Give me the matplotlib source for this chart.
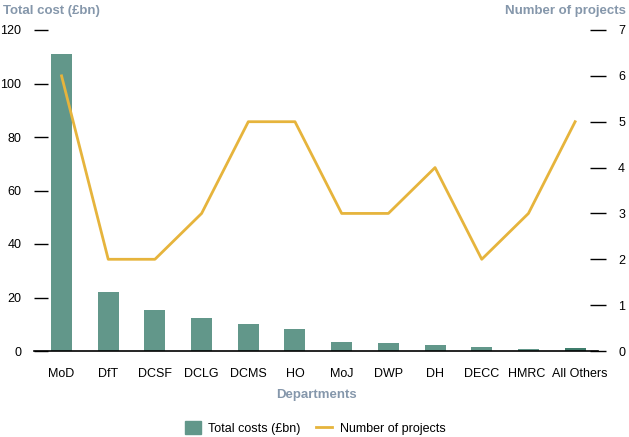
import numpy as np
from matplotlib import pyplot as plt
from matplotlib.patches import Patch
from matplotlib.lines import Line2D
import matplotlib.transforms as mtransforms

plt.rcParams['font.family'] = ['Liberation Sans', 'DejaVu Sans']

departments = ['MoD', 'DfT', 'DCSF', 'DCLG', 'DCMS', 'HO', 'MoJ', 'DWP', 'DH', 'DECC', 'HMRC', 'All Others']
total_cost = [111, 22.2, 15.5, 12.2, 10.2, 8.4, 3.5, 3.0, 2.3, 1.6, 0.6, 1.3]  # £bn
n_projects = [6, 2, 2, 3, 5, 5, 3, 3, 4, 2, 3, 5]

bar_col = '#62978a'
line_col = '#e6b43c'
head_col = '#8597ab'

fig = plt.figure(figsize=(6.29, 4.37), dpi=100)
ax = fig.add_axes([34/629, 86/437, 564/629, 321/437])
x = np.arange(len(departments))
colors = [bar_col]*(len(departments)-1) + ['#3f7d6c']
ax.bar(x, total_cost, width=0.45, color=colors, zorder=2)
ax.set_xlim(-0.59, 11.49)
ax.set_ylim(0, 120)
ax.set_yticks([0, 20, 40, 60, 80, 100, 120])
ax.set_xticks(x)
ax.set_xticklabels(departments)
for s in ['left', 'right', 'top']:
    ax.spines[s].set_visible(False)
ax.spines['bottom'].set_linewidth(1.2)
ax.tick_params(axis='y', direction='in', length=10, width=1, pad=9, labelsize=9)
ax.tick_params(axis='x', length=0, pad=12, labelsize=9)
# nudge the last two labels apart like the reference
lbls = ax.get_xticklabels()
lbls[-1].set_transform(lbls[-1].get_transform() + mtransforms.ScaledTranslation(5/100, 0, fig.dpi_scale_trans))
lbls[-2].set_transform(lbls[-2].get_transform() + mtransforms.ScaledTranslation(-2/100, 0, fig.dpi_scale_trans))

ax2 = ax.twinx()
ax2.plot(x, n_projects, color=line_col, lw=2, zorder=3)
ax2.set_ylim(0, 7)
ax2.set_yticks(range(8))
for s in ['left', 'right', 'top', 'bottom']:
    ax2.spines[s].set_visible(False)
ax2.tick_params(axis='y', direction='inout', length=11, width=1, pad=9, labelsize=9)

fig.text(3/629, 1-11/437, 'Total cost (£bn)', color=head_col, fontsize=9.5, fontweight='bold', va='center', ha='left')
fig.text(626/629, 1-11/437, 'Number of projects', color=head_col, fontsize=9.5, fontweight='bold', va='center', ha='right')
fig.text(316/629, 1-395/437, 'Departments', color=head_col, fontsize=9.5, fontweight='bold', va='center', ha='center')

handles = [Patch(color=bar_col, label='Total costs (£bn)'),
           Line2D([0], [0], color=line_col, lw=2, label='Number of projects')]
fig.legend(handles=handles, loc='center', bbox_to_anchor=(315/629, 1-428/437), ncol=2,
           frameon=False, fontsize=9, handlelength=1.3, handleheight=1.2, columnspacing=1.2, handletextpad=0.6)

plt.savefig('out.png', dpi=100)
plt.close()
